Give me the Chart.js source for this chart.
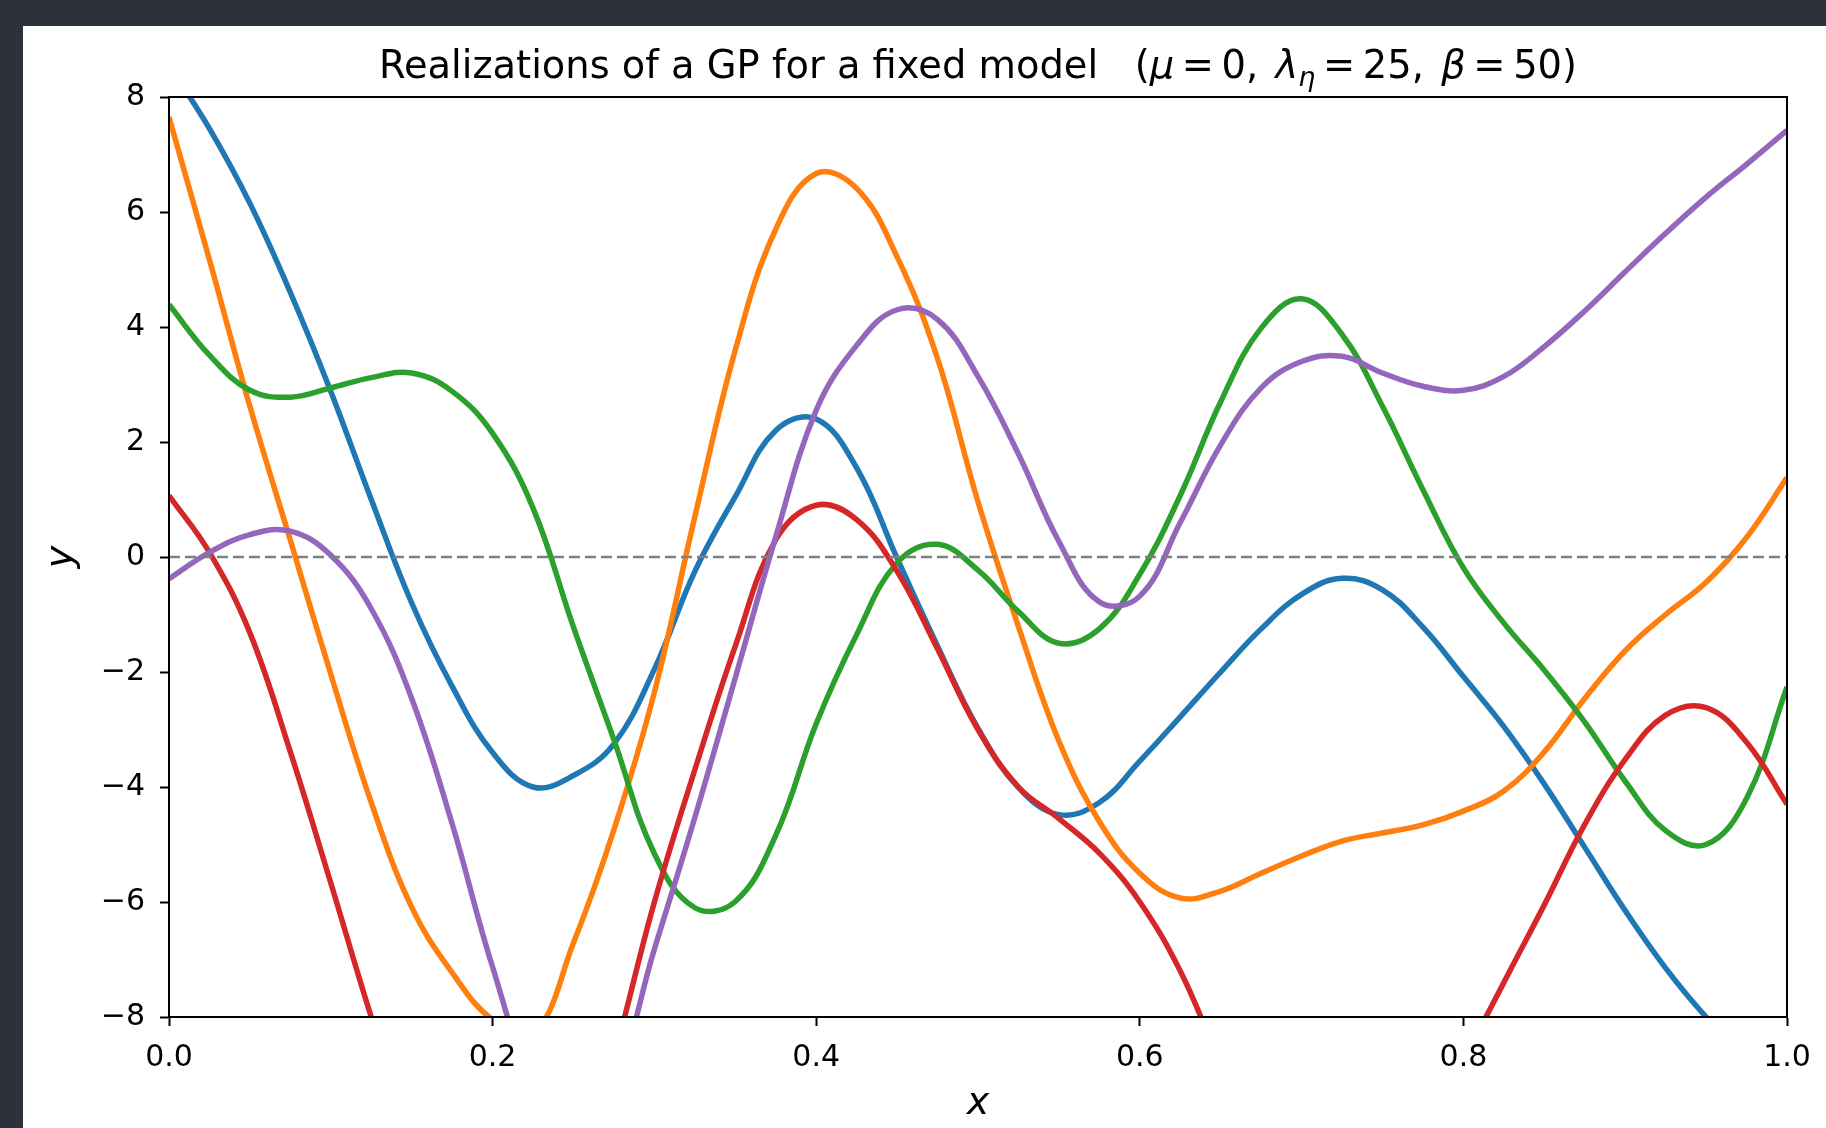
<!DOCTYPE html>
<html>
<head>
<meta charset="utf-8">
<title>GP realizations</title>
<script src="https://cdn.jsdelivr.net/npm/chart.js@4.4.0/dist/chart.umd.min.js"></script>
<style>
  html, body { margin: 0; padding: 0; background: #2d313c; width: 1826px; height: 1128px; overflow: hidden; }
  #fig { position: absolute; left: 23px; top: 26px; width: 1803px; height: 1102px; background: #fff; }
</style>
</head>
<body>
<div id="fig"><canvas id="gpChart" width="1803" height="1102"></canvas></div>
<script>
// sample positions (x) shared by all realizations
const xs = [0, 0.025, 0.05, 0.075, 0.1, 0.125, 0.15, 0.175, 0.2, 0.225,
            0.25, 0.275, 0.3, 0.325, 0.35, 0.375, 0.4, 0.425, 0.45, 0.475,
            0.5, 0.525, 0.55, 0.575, 0.6, 0.625, 0.65, 0.675, 0.7, 0.725,
            0.75, 0.775, 0.8, 0.825, 0.85, 0.875, 0.9, 0.925, 0.95, 0.975, 1.0];

// five draws (values below -8 / above 8 get clipped)
const draw1 = [8.55, 7.45, 6.15, 4.6, 2.88, 1.0, -0.8, -2.25, -3.4, -4.0,
               -3.8, -3.25, -1.95, -0.25, 1.05, 2.2, 2.4, 1.55, -0.02, -1.55,
               -2.98, -4.01, -4.48, -4.27, -3.55, -2.78, -2.0, -1.25, -0.65, -0.37,
               -0.57, -1.22, -2.08, -2.95, -3.95, -5.05, -6.15, -7.15, -8.0, -8.7, -9.3];
const draw2 = [7.65, 5.17, 2.62, 0.29, -2.04, -4.27, -6.09, -7.23, -8.05, -8.3,
               -6.71, -4.74, -2.35, 0.7, 3.6, 5.7, 6.67, 6.41, 5.22, 3.45,
               0.96, -1.21, -3.2, -4.6, -5.5, -5.93, -5.81, -5.5, -5.2, -4.94,
               -4.8, -4.66, -4.42, -4.07, -3.39, -2.46, -1.63, -1.0, -0.44, 0.34, 1.38];
const draw3 = [4.39, 3.51, 2.9, 2.78, 2.94, 3.12, 3.2, 2.88, 2.15, 0.85,
               -1.22, -3.18, -5.16, -6.1, -5.99, -4.84, -2.9, -1.35, -0.1, 0.22,
               -0.23, -0.95, -1.5, -1.25, -0.3, 1.07, 2.7, 3.98, 4.49, 3.87,
               2.62, 1.17, -0.19, -1.15, -1.97, -2.87, -3.9, -4.76, -5.0, -4.2, -2.26];
const draw4 = [1.07, 0.08, -1.32, -3.39, -5.67, -8.0, -10.1, -11.7, -12.6, -12.5,
               -11.1, -8.7, -6.0, -3.7, -1.55, 0.3, 0.9, 0.65, -0.25, -1.6,
               -3.0, -4.0, -4.55, -5.15, -6.0, -7.2, -8.8, -10.2, -11.2, -11.6,
               -11.4, -10.5, -8.8, -7.4, -6.05, -4.65, -3.52, -2.75, -2.62, -3.22, -4.3];
const draw5 = [-0.38, 0.08, 0.39, 0.45, 0.03, -0.9, -2.46, -4.64, -7.13, -9.1,
               -9.8, -9.1, -6.82, -4.53, -2.1, 0.35, 2.55, 3.68, 4.3, 4.13,
               3.14, 1.79, 0.27, -0.78, -0.68, 0.6, 1.95, 2.94, 3.4, 3.49,
               3.2, 2.97, 2.9, 3.14, 3.66, 4.28, 4.96, 5.63, 6.26, 6.83, 7.42];

const meanX = [0, 1];
const meanY = [0, 0];

const colors = ['#1f77b4', '#ff7f0e', '#2ca02c', '#d62728', '#9467bd'];
const fontFamily = "'DejaVu Sans', sans-serif";

// title pieces; gap is extra space after the piece, in em
const titleRuns = [
  { t: 'Realizations of a GP for a fixed model   (' },
  { t: '\u03bc', italic: true, gap: 0.2 },
  { t: '=', gap: 0.2 },
  { t: '0,', gap: 0.45 },
  { t: '\u03bb', italic: true },
  { t: '\u03b7', italic: true, sub: true, gap: 0.2 },
  { t: '=', gap: 0.2 },
  { t: '25,', gap: 0.45 },
  { t: '\u03b2', italic: true, gap: 0.2 },
  { t: '=', gap: 0.2 },
  { t: '50)' }
];

function toPoints(xv, yv) {
  return xv.map((x, i) => ({ x: x, y: yv[i] }));
}

// axes frame, title and axis labels, matplotlib style
const mplText = {
  id: 'mplText',
  afterDraw(chart) {
    const ctx = chart.ctx;
    const a = chart.chartArea;
    ctx.save();
    ctx.strokeStyle = '#000';
    ctx.lineWidth = 2;
    ctx.strokeRect(a.left, a.top, a.right - a.left, a.bottom - a.top);

    const size = 38.4;
    const fontFor = r => (r.italic ? 'italic ' : '') + (r.sub ? size * 0.7 : size) + 'px ' + fontFamily;
    ctx.fillStyle = '#000';
    ctx.textBaseline = 'alphabetic';
    ctx.textAlign = 'left';
    let total = 0;
    titleRuns.forEach(r => {
      ctx.font = fontFor(r);
      r.w = ctx.measureText(r.t).width + (r.gap || 0) * size;
      total += r.w;
    });
    let x = (a.left + a.right) / 2 - total / 2;
    const base = 52;
    titleRuns.forEach(r => {
      ctx.font = fontFor(r);
      ctx.fillText(r.t, x, r.sub ? base + size * 0.2 : base);
      x += r.w;
    });

    ctx.font = 'italic 38px ' + fontFamily;
    ctx.textAlign = 'center';
    ctx.fillText('x', (a.left + a.right) / 2, 1088);
    ctx.save();
    ctx.translate(49, (a.top + a.bottom) / 2);
    ctx.rotate(-Math.PI / 2);
    ctx.fillText('y', 0, 0);
    ctx.restore();
    ctx.restore();
  }
};

const datasets = [draw1, draw2, draw3, draw4, draw5].map((d, i) => ({
  data: toPoints(xs, d),
  borderColor: colors[i],
  borderWidth: 5.5,
  order: 5 - i,
  clip: 0
}));
datasets.push({
  data: toPoints(meanX, meanY),
  borderColor: '#808080',
  borderWidth: 2.6,
  borderDash: [11, 5],
  tension: 0,
  order: 0,
  clip: 0
});

const tickFont = { family: fontFamily, size: 30 };

new Chart(document.getElementById('gpChart'), {
  type: 'line',
  data: { datasets: datasets },
  options: {
    responsive: false,
    animation: false,
    events: [],
    layout: { padding: { top: 71, right: 39, left: 0, bottom: 0 } },
    plugins: {
      legend: { display: false },
      tooltip: { enabled: false },
      title: { display: false }
    },
    elements: {
      point: { radius: 0 },
      line: { tension: 0.4, capBezierPoints: false, fill: false }
    },
    scales: {
      x: {
        type: 'linear',
        min: 0,
        max: 1,
        afterFit: s => { s.height = 111; },
        ticks: {
          stepSize: 0.2,
          callback: v => v.toFixed(1),
          font: tickFont,
          color: '#000',
          padding: 14,
          maxRotation: 0
        },
        grid: { drawOnChartArea: false, tickLength: 9, tickColor: '#000', tickWidth: 2 },
        border: { color: '#000', width: 2 }
      },
      y: {
        type: 'linear',
        min: -8,
        max: 8,
        afterFit: s => { s.width = 146; },
        ticks: {
          stepSize: 2,
          callback: v => v < 0 ? '\u2212' + Math.abs(v) : String(v),
          font: tickFont,
          color: '#000',
          padding: 15
        },
        grid: { drawOnChartArea: false, tickLength: 9, tickColor: '#000', tickWidth: 2 },
        border: { color: '#000', width: 2 }
      }
    }
  },
  plugins: [mplText]
});
</script>
</body>
</html>
